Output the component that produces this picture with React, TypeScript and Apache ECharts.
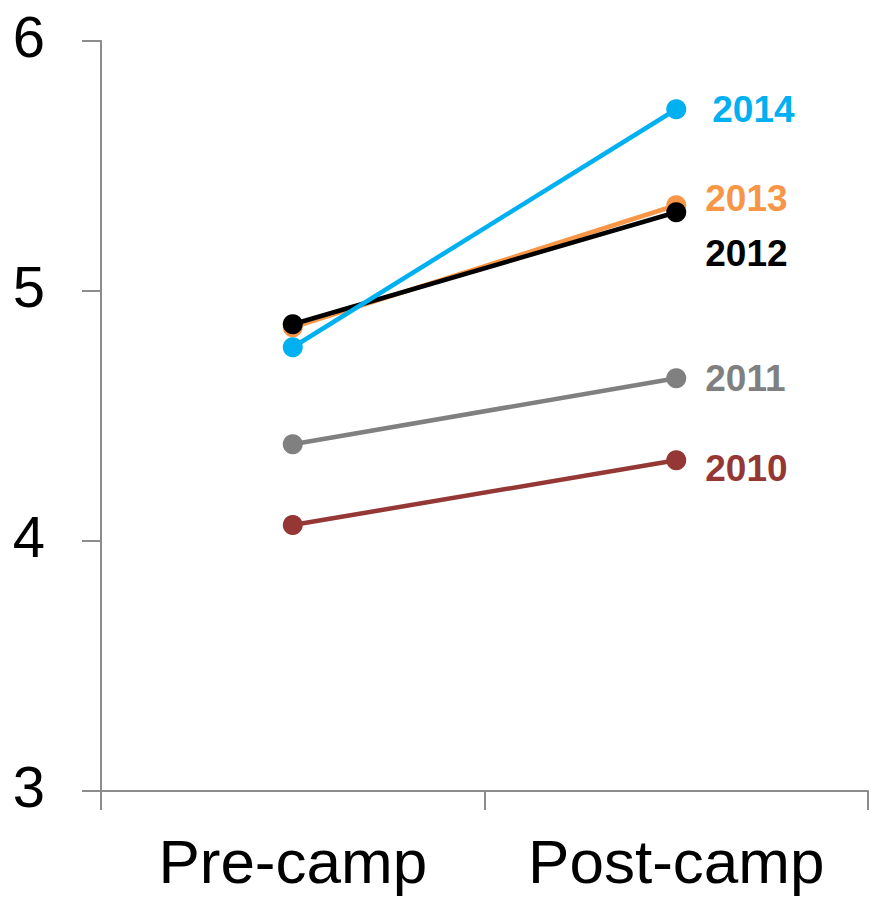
import React, { useEffect, useRef } from "react";
import * as echarts from "echarts";

// Mean scores before and after camp, one line per year
const categories = ["Pre-camp", "Post-camp"];
const years = ["2010", "2011", "2013", "2012", "2014"];
const values2010 = [4.064, 4.323];
const values2011 = [4.387, 4.651];
const values2012 = [4.867, 5.315];
const values2013 = [4.855, 5.343];
const values2014 = [4.775, 5.727];
const yTicks = { min: 3, max: 6, interval: 1 };

const seriesValues: Record<string, number[]> = {
  "2010": values2010,
  "2011": values2011,
  "2012": values2012,
  "2013": values2013,
  "2014": values2014,
};

const colors: Record<string, string> = {
  "2010": "#953735",
  "2011": "#808080",
  "2012": "#000000",
  "2013": "#f79646",
  "2014": "#00b0f0",
};

// label placement next to the post-camp point
const labelStyle: Record<string, { distance: number; dy: number }> = {
  "2010": { distance: 19, dy: 8 },
  "2011": { distance: 19, dy: 0 },
  "2012": { distance: 19, dy: 41 },
  "2013": { distance: 19, dy: -7 },
  "2014": { distance: 26, dy: 0 },
};

const FONT = "Arial, 'Liberation Sans', sans-serif";
const AXIS_COLOR = "#8c8c8c";

export default function App() {
  const ref = useRef<HTMLDivElement>(null);

  useEffect(() => {
    if (!ref.current) return;
    const chart = echarts.init(ref.current, null, { renderer: "svg" });

    const series = years.map((y) => {
      const vals = seriesValues[y];
      const ls = labelStyle[y];
      return {
        name: y,
        type: "line",
        data: vals.map((v, i) =>
          i === vals.length - 1
            ? {
                value: v,
                label: {
                  show: true,
                  position: "right",
                  distance: ls.distance,
                  offset: [0, ls.dy],
                  formatter: y,
                  color: colors[y],
                  fontSize: 37,
                  fontWeight: "bold",
                  fontFamily: FONT,
                },
              }
            : v
        ),
        symbol: "circle",
        symbolSize: 20,
        showSymbol: true,
        lineStyle: { color: colors[y], width: 4.5 },
        itemStyle: { color: colors[y] },
        emphasis: { disabled: true },
      };
    });

    chart.setOption({
      animation: false,
      grid: { left: 101, right: 2, top: 41, bottom: 108, containLabel: false },
      xAxis: {
        type: "category",
        data: categories,
        boundaryGap: true,
        axisLine: { show: true, lineStyle: { color: AXIS_COLOR, width: 2 } },
        axisTick: {
          show: true,
          interval: 0,
          length: 19,
          lineStyle: { color: AXIS_COLOR, width: 2 },
        },
        axisLabel: {
          interval: 0,
          hideOverlap: false,
          color: "#000",
          fontSize: 62,
          fontFamily: FONT,
          margin: 39,
        },
        splitLine: { show: false },
      },
      yAxis: {
        type: "value",
        min: yTicks.min,
        max: yTicks.max,
        interval: yTicks.interval,
        axisLine: { show: true, lineStyle: { color: AXIS_COLOR, width: 2 } },
        axisTick: { show: true, length: 19, lineStyle: { color: AXIS_COLOR, width: 2 } },
        axisLabel: {
          margin: 56,
          formatter: "{n|{value}}",
          rich: {
            n: {
              color: "#000",
              fontSize: 58,
              fontFamily: FONT,
              lineHeight: 58,
              padding: [0, 0, 10, 0],
            },
          },
        },
        splitLine: { show: false },
      },
      series,
    });

    return () => chart.dispose();
  }, []);

  return (
    <div
      ref={ref}
      style={{ position: "fixed", left: 0, top: 0, width: 870, height: 899, background: "#fff" }}
    />
  );
}
